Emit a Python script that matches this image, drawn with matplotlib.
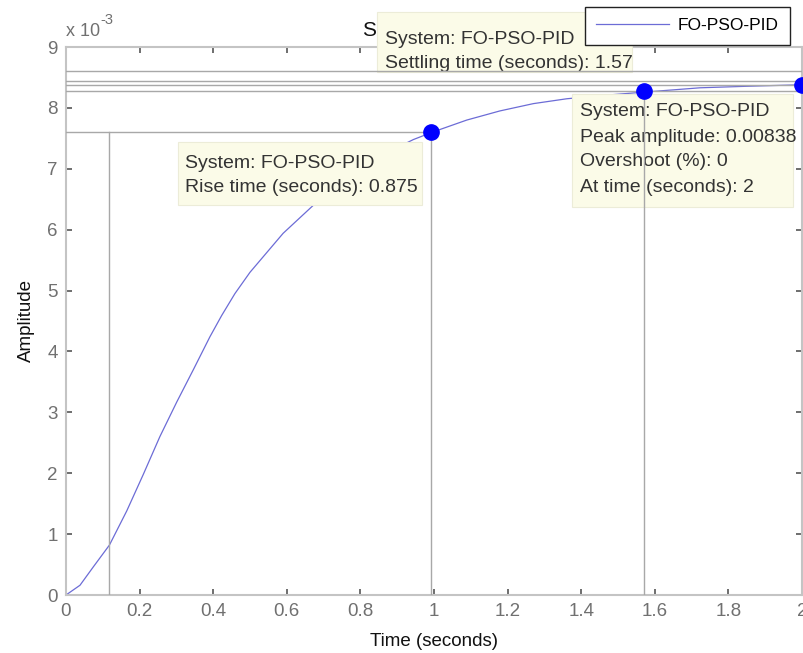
import matplotlib
matplotlib.use("Agg")
import matplotlib.pyplot as plt
from matplotlib.patches import Rectangle

plt.rcParams['font.family'] = ['Liberation Sans', 'DejaVu Sans']

# ---------------- data (amplitude in units of 1e-3) ----------------
time_s = [0.0, 0.038, 0.074, 0.118, 0.165, 0.210, 0.255, 0.301, 0.346, 0.391,
          0.423, 0.459, 0.500, 0.590, 0.672, 0.750, 0.850, 0.944, 0.995, 1.089,
          1.179, 1.270, 1.361, 1.470, 1.573, 1.723, 1.850, 2.0]
amp_e3 = [0.0, 0.16, 0.46, 0.82, 1.38, 1.98, 2.60, 3.17, 3.70, 4.24,
          4.59, 4.95, 5.30, 5.94, 6.40, 6.80, 7.20, 7.48, 7.60, 7.80,
          7.95, 8.07, 8.15, 8.21, 8.26, 8.33, 8.355, 8.38]

series_name = "FO-PSO-PID"
steady_state = 8.44
settle_band = [8.61, 8.27]
rise_start, rise_end, rise_level = 0.118, 0.993, 7.60
rise_time = 0.875
settling_time, settling_level = 1.57, 8.27
peak_time, peak_amp = 2.0, 8.38
peak_amp_str = "0.00838"
overshoot = 0

x_ticks = [0, 0.2, 0.4, 0.6, 0.8, 1, 1.2, 1.4, 1.6, 1.8, 2]
x_tick_labels = ["0", "0.2", "0.4", "0.6", "0.8", "1", "1.2", "1.4", "1.6", "1.8", "2"]
y_ticks = list(range(0, 10))

W, H = 804, 653
fig = plt.figure(figsize=(W / 100, H / 100), dpi=100)
ax = fig.add_axes([66 / W, 1 - 595 / H, (802 - 66) / W, (595 - 47) / H])

def fx(px):
    return px / W

def fy(py):
    return 1 - py / H

line_col = '#6c6cd6'
ref_col = '#a8a8a8'
txt_col = '#333333'
tick_col = '#707070'

ax.plot(time_s, amp_e3, color=line_col, lw=0.9, zorder=2, label=series_name)

# characteristic lines
for lvl in [settle_band[0], steady_state, peak_amp, settle_band[1]]:
    ax.plot([0, 2], [lvl, lvl], color=ref_col, lw=1.0, zorder=5)
ax.plot([0, rise_end], [rise_level, rise_level], color=ref_col, lw=1.0, zorder=5)
ax.plot([rise_start, rise_start], [0, rise_level], color=ref_col, lw=1.0, zorder=5)
ax.plot([rise_end, rise_end], [0, rise_level], color=ref_col, lw=1.0, zorder=5)
ax.plot([settling_time, settling_time], [0, settling_level], color=ref_col, lw=1.0, zorder=5)

# markers
ax.plot([rise_end, settling_time, peak_time], [rise_level, settling_level, peak_amp],
        'o', color='#0000ff', ms=11, zorder=6, clip_on=False)

ax.set_xlim(0, 2)
ax.set_ylim(0, 9)
ax.set_xticks(x_ticks)
ax.set_xticklabels(x_tick_labels)
ax.set_yticks(y_ticks)
ax.tick_params(direction='in', length=4, width=1.2, color='#555555',
               labelcolor=tick_col, labelsize=13.5, top=True, right=True, pad=6)
for s in ax.spines.values():
    s.set_color('#c4c4c4')
    s.set_linewidth(1.5)

ax.set_xlabel("Time (seconds)", fontsize=13.5, color='#111111', labelpad=9)
ax.set_ylabel("Amplitude", fontsize=13.5, color='#111111', labelpad=9)
ax.set_title("Step Response", fontsize=15, color='#111111', pad=8, zorder=3)

# offset text
ax.text(fx(66), fy(32), "x 10", transform=fig.transFigure, fontsize=13,
        color=tick_col, ha='left', va='center', clip_on=False)
ax.text(fx(100), fy(20), "-3", transform=fig.transFigure, fontsize=10.5,
        color=tick_col, ha='left', va='center', clip_on=False)

# data tip boxes
def tipbox(x0, y0, x1, y1, lines, ys, tx):
    ax.add_patch(Rectangle((fx(x0), fy(y1)), fx(x1) - fx(x0), fy(y0) - fy(y1),
                           transform=fig.transFigure, facecolor='#fbfbe8',
                           edgecolor='#ececd8', lw=0.8, clip_on=False, zorder=4))
    for s, yy in zip(lines, ys):
        ax.text(fx(tx), fy(yy), s, transform=fig.transFigure, fontsize=14,
                color=txt_col, ha='left', va='center', zorder=4.5, clip_on=False)

tipbox(377, 12, 632, 72,
       [f"System: {series_name}", f"Settling time (seconds): {settling_time:g}"],
       [40, 63], 385)
tipbox(178, 142, 422, 205,
       [f"System: {series_name}", f"Rise time (seconds): {rise_time:g}"],
       [163, 188], 185)
tipbox(572, 94, 793, 207,
       [f"System: {series_name}", f"Peak amplitude: {peak_amp_str}",
        f"Overshoot (%): {overshoot}", f"At time (seconds): {peak_time:g}"],
       [112, 137, 162, 187], 580)

leg = ax.legend(loc='upper left', bbox_to_anchor=(fx(585), fy(7)),
                bbox_transform=fig.transFigure, fontsize=12.5, handlelength=4.2,
                handletextpad=0.5, borderpad=0.65, borderaxespad=0,
                fancybox=False, framealpha=1, edgecolor='#222222')
leg.get_frame().set_linewidth(1.0)
leg.set_zorder(7)

fig.savefig("out.png", dpi=100)
